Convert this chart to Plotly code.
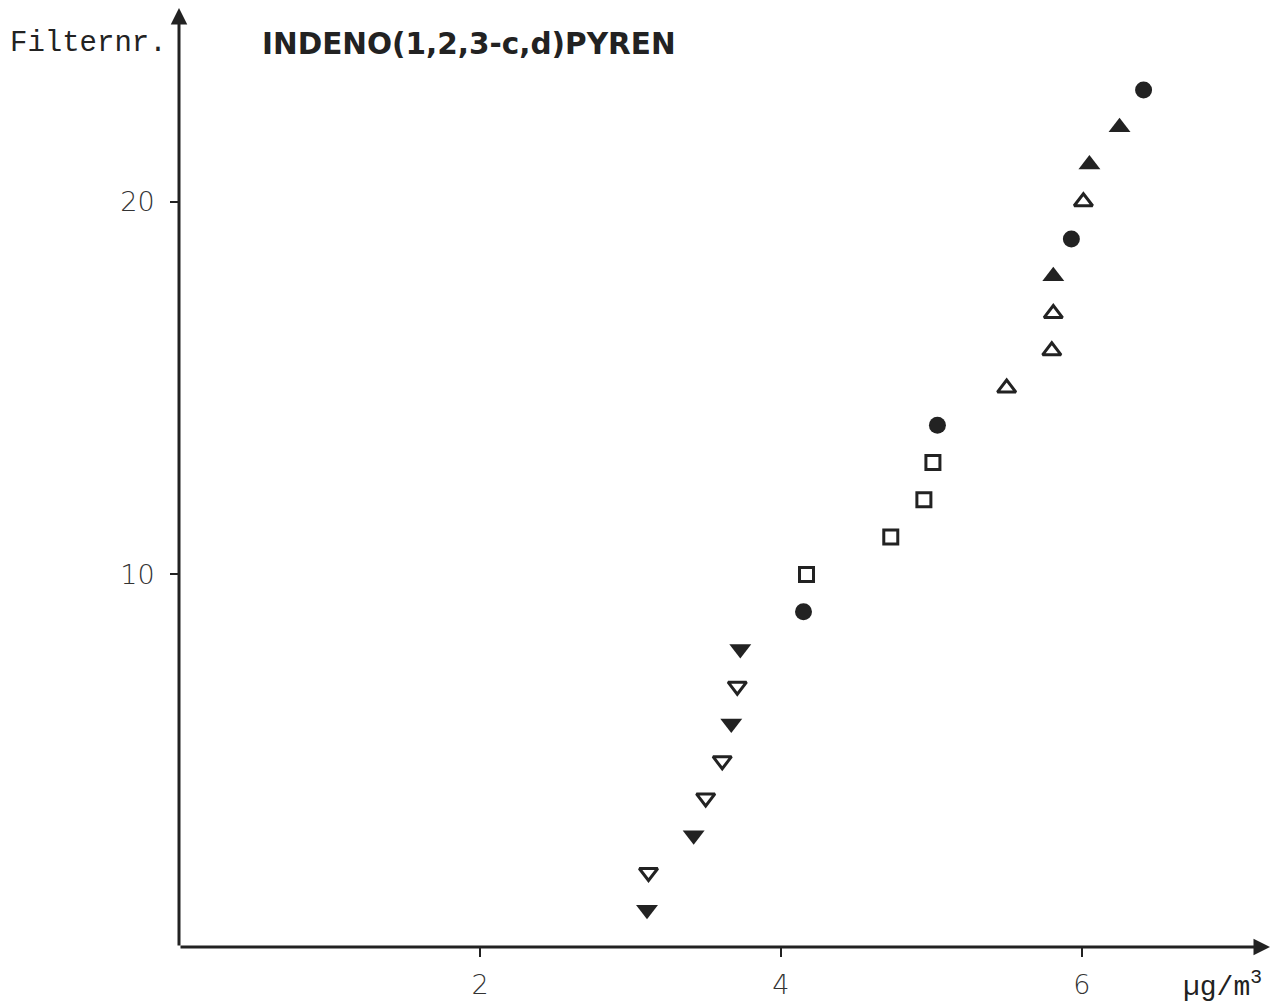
import plotly.graph_objects as go

# Filter number (y) vs concentration in µg/m³ (x), grouped by marker type
down_filled_nr = [1, 3, 6, 8]
down_filled_conc = [3.11, 3.42, 3.67, 3.73]

down_open_nr = [2, 4, 5, 7]
down_open_conc = [3.12, 3.50, 3.61, 3.71]

circle_nr = [9, 14, 19, 23]
circle_conc = [4.15, 5.04, 5.93, 6.41]

square_nr = [10, 11, 12, 13]
square_conc = [4.17, 4.73, 4.95, 5.01]

up_open_nr = [15, 16, 17, 20]
up_open_conc = [5.50, 5.80, 5.81, 6.01]

up_filled_nr = [18, 21, 22]
up_filled_conc = [5.81, 6.05, 6.25]

x_ticks = [2, 4, 6]
y_ticks = [10, 20]

INK = "#222222"
X_MAX = 7.25
Y_MAX = 25.2

fig = go.Figure()

def add(xs, ys, symbol, size, lw=0):
    fig.add_trace(go.Scatter(
        x=xs, y=ys, mode="markers", showlegend=False, cliponaxis=False,
        hoverinfo="x+y",
        marker=dict(symbol=symbol, size=size, color=INK,
                    line=dict(width=lw, color=INK)),
    ))

add(down_filled_conc, down_filled_nr, "triangle-down", 19)
add(down_open_conc, down_open_nr, "triangle-down-open", 16, 3)
add(circle_conc, circle_nr, "circle", 17)
add(square_conc, square_nr, "square-open", 14, 3)
add(up_open_conc, up_open_nr, "triangle-up-open", 16, 3)
add(up_filled_conc, up_filled_nr, "triangle-up", 19)

annotations = [
    # axis arrows
    dict(x=X_MAX, y=0, ax=0, ay=0, xref="x", yref="y", axref="x", ayref="y",
         text="", showarrow=True, arrowhead=2, arrowsize=1.1, arrowwidth=3,
         arrowcolor=INK),
    dict(x=0, y=Y_MAX, ax=0, ay=0, xref="x", yref="y", axref="x", ayref="y",
         text="", showarrow=True, arrowhead=2, arrowsize=1.1, arrowwidth=3,
         arrowcolor=INK),
    # labels
    dict(x=-0.157, y=0.9627, xref="paper", yref="paper", xanchor="left", yanchor="middle",
         text="Filternr.", showarrow=False,
         font=dict(family="Liberation Mono", size=29, color=INK)),
    dict(x=0.0742, y=0.9617, xref="paper", yref="paper", xanchor="left", yanchor="middle",
         text="<b>INDENO(1,2,3-c,d)PYREN</b>", showarrow=False,
         font=dict(family="DejaVu Sans", size=29.5, color=INK)),
    dict(x=0.918, y=-0.041, xref="paper", yref="paper", xanchor="left", yanchor="middle",
         text="µg/m<sup>3</sup>", showarrow=False,
         font=dict(family="Liberation Mono", size=28, color=INK)),
]

fig.update_layout(
    width=1280, height=999,
    margin=dict(l=171, r=18, t=0, b=60, autoexpand=False),
    paper_bgcolor="white", plot_bgcolor="white",
    annotations=annotations,
    xaxis=dict(range=[0, X_MAX], tickvals=x_ticks, ticks="outside", ticklen=9,
               tickwidth=2, tickcolor=INK, showgrid=False, zeroline=False,
               showline=False, ticklabelstandoff=5, automargin=False,
               tickfont=dict(family="DejaVu Sans", size=27, color="#333", weight=200)),
    yaxis=dict(range=[0, Y_MAX], tickvals=y_ticks, ticks="outside", ticklen=8,
               tickwidth=2, tickcolor=INK, showgrid=False, zeroline=False,
               showline=False, ticklabelstandoff=10, automargin=False,
               tickfont=dict(family="DejaVu Sans", size=27, color="#333", weight=200)),
)

fig.write_html("out.html")
